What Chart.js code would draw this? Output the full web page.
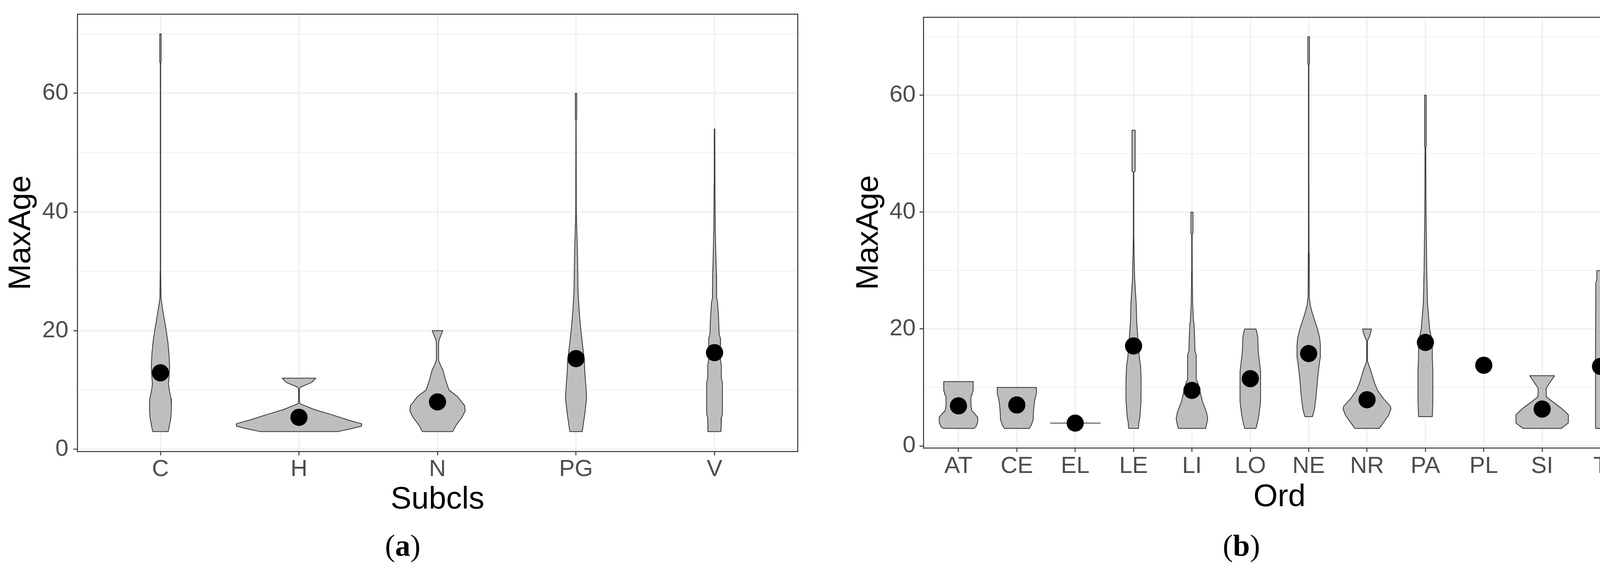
<!DOCTYPE html>
<html>
<head>
<meta charset="utf-8">
<title>MaxAge violins</title>
<script src="https://cdn.jsdelivr.net/npm/chart.js@4.4.0/dist/chart.umd.min.js"></script>
<style>
  html, body { margin: 0; padding: 0; background: #fff; }
  body { width: 4217px; height: 1466px; position: relative; overflow: hidden; }
  canvas { position: absolute; top: 0; }
  #chartA { left: 0; }
  #chartB { left: 2140px; }
  .caption { position: absolute; top: 1357px; font-family: "Liberation Serif", "Times New Roman", serif; font-size: 78px; line-height: 1; color: #000; transform: translateX(-50%); white-space: nowrap; }
</style>
</head>
<body>
<canvas id="chartA" width="2100" height="1330"></canvas>
<canvas id="chartB" width="2077" height="1330"></canvas>
<div class="caption" style="left:1031px">(<b>a</b>)</div>
<div class="caption" style="left:3178px">(<b>b</b>)</div>
<script>
// y axis ticks (same for both panels)
var yTickValues = [0, 10, 20, 30, 40, 50, 60, 70];
var yLabelValues = [0, 20, 40, 60];

// panel (a): MaxAge by Subcls
var subclsLabels = ['C', 'H', 'N', 'PG', 'V'];
var subclsMeans = [12.9, 5.4, 8.0, 15.3, 16.3];
// violin outlines: [MaxAge, half width of the density], bottom to top
var violinC = [[3, 0.056], [4, 0.065], [5.5, 0.076], [7, 0.079], [8.5, 0.077], [10, 0.064], [11, 0.058], [12.5, 0.063], [14, 0.066], [16, 0.062], [18, 0.054], [20, 0.042], [22, 0.027], [24, 0.013], [25.5, 0.004], [30, 0.002], [44, 0.0015], [46, 0.001], [65, 0.001], [65.3, 0.005], [70, 0.005]];
var violinH = [[3, 0.282], [3.45, 0.373], [3.9, 0.45], [4.3, 0.453], [5.0, 0.347], [5.85, 0.235], [6.7, 0.113], [7.5, 0.028], [7.7, 0.006], [8.5, 0.003], [10.2, 0.003], [10.5, 0.011], [10.9, 0.054], [11.3, 0.093], [12, 0.121]];
var violinN = [[3, 0.11], [4.1, 0.135], [5.4, 0.177], [6.5, 0.2], [7.4, 0.195], [8.9, 0.144], [10, 0.083], [11.6, 0.059], [13.3, 0.04], [14.3, 0.02], [15, 0.008], [17.8, 0.008], [18.4, 0.011], [19.3, 0.026], [20, 0.038]];
var violinPG = [[3, 0.045], [4.3, 0.053], [6.1, 0.064], [8.6, 0.076], [10.4, 0.072], [12.9, 0.064], [15, 0.06], [17.2, 0.049], [20.3, 0.034], [23.3, 0.023], [26.4, 0.015], [32.5, 0.011], [40, 0.002], [55.5, 0.001], [55.7, 0.005], [60, 0.005]];
var violinV = [[3, 0.046], [4, 0.048], [5.3, 0.05], [6, 0.057], [11.3, 0.057], [12, 0.049], [14.2, 0.049], [15, 0.043], [18.7, 0.042], [19.5, 0.033], [21.8, 0.03], [24.8, 0.022], [25.5, 0.015], [29.5, 0.014], [31.3, 0.011], [37.5, 0.005], [44.8, 0.003], [54, 0.002]];
var subclsViolins = [violinC, violinH, violinN, violinPG, violinV];

// panel (b): MaxAge by Ord
var ordLabels = ['AT', 'CE', 'EL', 'LE', 'LI', 'LO', 'NE', 'NR', 'PA', 'PL', 'SI', 'T'];
var ordMeans = [6.85, 7.0, 3.9, 17.1, 9.5, 11.5, 15.8, 7.9, 17.7, 13.8, 6.3, 13.6];
var violinAT = [[3, 0.266], [3.3, 0.30], [4.05, 0.33], [4.9, 0.33], [5.6, 0.27], [6.0, 0.23], [6.85, 0.214], [8.5, 0.214], [8.8, 0.235], [9.2, 0.24], [9.4, 0.252], [11, 0.252]];
var violinCE = [[3, 0.215], [3.6, 0.25], [4.5, 0.28], [5.85, 0.285], [7.4, 0.3], [8.2, 0.315], [8.9, 0.335], [10, 0.335]];
var violinEL = [[3.9, 0.429]];
var violinLE = [[3, 0.085], [4, 0.092], [5, 0.11], [7.5, 0.127], [11.2, 0.13], [13.7, 0.12], [15, 0.1], [18.7, 0.072], [21.2, 0.054], [24.4, 0.045], [28.7, 0.018], [32.5, 0.01], [36, 0.004], [46.8, 0.004], [47, 0.027], [54, 0.027]];
var violinLI = [[3, 0.235], [4.1, 0.26], [4.7, 0.27], [5.8, 0.248], [7.6, 0.18], [9.5, 0.133], [11, 0.094], [11.3, 0.074], [15.6, 0.074], [16.2, 0.052], [18.8, 0.045], [20.9, 0.035], [21.4, 0.027], [24.1, 0.013], [30, 0.005], [36.2, 0.004], [36.4, 0.018], [40, 0.018]];
var violinLO = [[3, 0.097], [4.5, 0.134], [5.8, 0.154], [7.6, 0.176], [12.7, 0.176], [14.6, 0.154], [16.1, 0.137], [18.6, 0.127], [19.3, 0.116], [20, 0.097]];
var violinNE = [[5, 0.066], [6.3, 0.10], [8.5, 0.127], [11.6, 0.154], [13.9, 0.18], [15.2, 0.2], [17.4, 0.2], [18.5, 0.188], [20.1, 0.149], [21.4, 0.105], [22.8, 0.06], [24.1, 0.027], [25.5, 0.01], [33, 0.006], [45, 0.004], [65.2, 0.004], [65.4, 0.014], [70, 0.014]];
var violinNR = [[3, 0.21], [4.1, 0.29], [5.2, 0.367], [6.3, 0.41], [6.8, 0.40], [8.1, 0.28], [9.5, 0.18], [10.8, 0.127], [13, 0.06], [14.1, 0.02], [14.5, 0.008], [18, 0.008], [18.7, 0.04], [19.4, 0.062], [20, 0.076]];
var violinPA = [[5, 0.118], [7.5, 0.127], [10, 0.127], [13.1, 0.127], [15, 0.118], [17.7, 0.118], [20, 0.072], [24.4, 0.036], [30, 0.023], [40.6, 0.01], [51, 0.006], [51.3, 0.014], [60, 0.014]];
var violinPL = [];
var violinSI = [[3, 0.33], [3.9, 0.447], [5.3, 0.45], [5.8, 0.40], [6.6, 0.31], [7.4, 0.2], [8.4, 0.074], [9.8, 0.067], [10.8, 0.13], [12, 0.213]];
var violinT = [[3, 0.086], [15, 0.086], [28, 0.08], [28.4, 0.064], [30, 0.062]];
var ordViolins = [violinAT, violinCE, violinEL, violinLE, violinLI, violinLO, violinNE, violinNR, violinPA, violinPL, violinSI, violinT];

var fontSans = '"Liberation Sans", Arial, sans-serif';
var frameColor = '#333333';
var gridColor = '#EBEBEB';

Chart.defaults.font.family = fontSans;

// closed outline: left side going up, right side coming down
function outline(profile, pos) {
  var pts = [];
  for (var i = 0; i < profile.length; i++) {
    pts.push({x: pos - profile[i][1], y: profile[i][0]});
  }
  for (var j = profile.length - 1; j >= 0; j--) {
    pts.push({x: pos + profile[j][1], y: profile[j][0]});
  }
  pts.push(pts[0]);
  return pts;
}

function makeDatasets(means, violins) {
  var sets = [{
    data: means.map(function (m, i) { return {x: i + 1, y: m}; }),
    showLine: false,
    pointRadius: 22,
    pointHoverRadius: 22,
    backgroundColor: '#000000',
    borderWidth: 0,
    order: 0
  }];
  violins.forEach(function (v, i) {
    if (!v.length) return;
    sets.push({
      data: outline(v, i + 1),
      showLine: true,
      fill: 'shape',
      backgroundColor: '#BEBEBE',
      borderColor: frameColor,
      borderWidth: 2,
      borderJoinStyle: 'round',
      pointRadius: 0,
      pointHoverRadius: 0,
      tension: 0,
      order: 1
    });
  });
  return sets;
}

function noPadding(s) {
  s.paddingTop = 0;
  s.paddingBottom = 0;
  s.paddingLeft = 0;
  s.paddingRight = 0;
}

function makeChart(canvasId, labels, means, violins, xTitle, box) {
  var isMajor = function (ctx) { return ctx.tick && yLabelValues.indexOf(ctx.tick.value) >= 0; };
  return new Chart(document.getElementById(canvasId), {
    type: 'scatter',
    data: {datasets: makeDatasets(means, violins)},
    options: {
      responsive: false,
      animation: false,
      layout: {padding: {top: box.top, right: box.right, left: 0, bottom: 0}},
      plugins: {legend: {display: false}, tooltip: {enabled: false}},
      scales: {
        x: {
          type: 'linear',
          position: 'bottom',
          min: 0.4,
          max: labels.length + 0.6,
          bounds: 'data',
          afterBuildTicks: function (s) {
            s.ticks = labels.map(function (l, i) { return {value: i + 1}; });
          },
          afterFit: function (s) { s.height = box.xHeight; noPadding(s); },
          ticks: {
            autoSkip: false,
            maxRotation: 0,
            minRotation: 0,
            padding: box.xPad,
            color: '#4D4D4D',
            font: {size: 60},
            callback: function (v) { return labels[v - 1] || ''; }
          },
          grid: {color: gridColor, lineWidth: 2.5, tickColor: frameColor, tickLength: 10, tickWidth: 2.5},
          border: {display: true, color: frameColor, width: 2.5},
          title: {display: true, text: xTitle, color: '#000', font: {size: 80}, padding: {top: 0, bottom: box.xTitlePad}}
        },
        y: {
          type: 'linear',
          position: 'left',
          min: -0.35,
          max: 73.35,
          bounds: 'data',
          afterBuildTicks: function (s) {
            s.ticks = yTickValues.map(function (v) { return {value: v}; });
          },
          afterFit: function (s) { s.width = box.yWidth; noPadding(s); },
          ticks: {
            autoSkip: false,
            padding: box.yPad,
            color: '#4D4D4D',
            font: {size: 60},
            callback: function (v) { return yLabelValues.indexOf(v) >= 0 ? String(v) : ''; }
          },
          grid: {
            color: gridColor,
            lineWidth: function (ctx) { return isMajor(ctx) ? 2.5 : 1.5; },
            tickColor: function (ctx) { return isMajor(ctx) ? frameColor : 'rgba(0,0,0,0)'; },
            tickLength: 10,
            tickWidth: 2.5
          },
          border: {display: true, color: frameColor, width: 2.5},
          title: {display: true, text: 'MaxAge', color: '#000', font: {size: 80}, padding: {top: box.yTitlePad, bottom: 0}}
        },
        xTop: {
          type: 'linear',
          position: 'top',
          display: true,
          ticks: {display: false},
          grid: {display: false, drawTicks: false},
          border: {display: true, color: frameColor, width: 2.5},
          afterFit: function (s) { s.height = 0; noPadding(s); }
        },
        yRight: {
          type: 'linear',
          position: 'right',
          display: true,
          ticks: {display: false},
          grid: {display: false, drawTicks: false},
          border: {display: true, color: frameColor, width: 2.5},
          afterFit: function (s) { s.width = 0; noPadding(s); }
        }
      }
    }
  });
}

var chartA = makeChart('chartA', subclsLabels, subclsMeans, subclsViolins, 'Subcls',
  {top: 36, right: 58, yWidth: 198, xHeight: 175, xPad: 0, yPad: 13, xTitlePad: 3, yTitlePad: 7});
var chartB = makeChart('chartB', ordLabels, ordMeans, ordViolins, 'Ord',
  {top: 44, right: 30, yWidth: 224, xHeight: 184, xPad: 1, yPad: 10, xTitlePad: 9, yTitlePad: 37});
</script>
</body>
</html>
